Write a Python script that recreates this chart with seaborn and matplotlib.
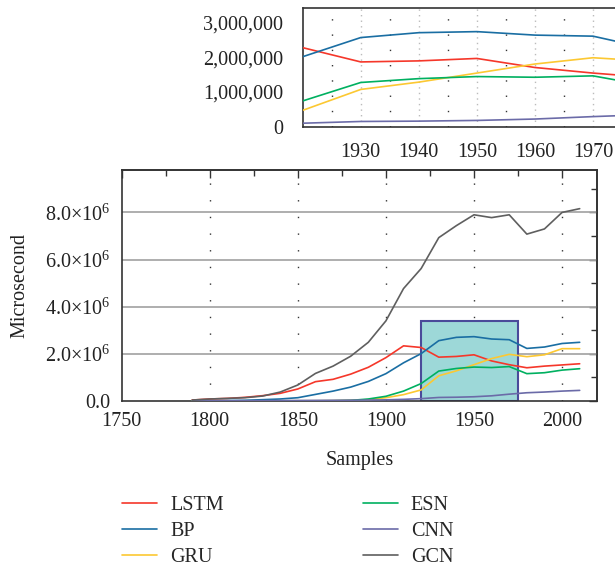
import matplotlib
matplotlib.use("Agg")
import matplotlib.pyplot as plt
import matplotlib.ticker as mticker
from matplotlib.patches import Rectangle
import numpy as np
import pandas as pd
import seaborn as sns

# ---------------- data ----------------
years = [1790, 1800, 1810, 1820, 1830, 1840, 1850, 1860, 1870, 1880, 1890, 1900,
         1910, 1920, 1930, 1940, 1950, 1960, 1970, 1980, 1990, 2000, 2010]
models = ["LSTM", "BP", "GRU", "ESN", "CNN", "GCN"]
lstm = [40e3, 85e3, 110e3, 155e3, 226e3, 325e3, 510e3, 820e3, 920e3, 1.14e6, 1.43e6, 1.84e6,
        2.34e6, 2.27e6, 1.86e6, 1.89e6, 1.96e6, 1.70e6, 1.54e6, 1.41e6, 1.48e6, 1.53e6, 1.58e6]
bp = [10e3, 14e3, 20e3, 30e3, 56e3, 85e3, 140e3, 280e3, 420e3, 590e3, 830e3, 1.16e6,
      1.62e6, 2.01e6, 2.56e6, 2.70e6, 2.73e6, 2.63e6, 2.60e6, 2.23e6, 2.29e6, 2.44e6, 2.49e6]
gru = [5e3, 5e3, 6e3, 6e3, 7e3, 8e3, 9e3, 10e3, 15e3, 28e3, 56e3, 140e3,
       270e3, 0.47e6, 1.07e6, 1.28e6, 1.54e6, 1.80e6, 1.98e6, 1.88e6, 1.96e6, 2.22e6, 2.22e6]
esn = [5e3, 5e3, 5e3, 5e3, 5e3, 5e3, 6e3, 7e3, 10e3, 25e3, 85e3, 200e3,
       420e3, 0.74e6, 1.27e6, 1.38e6, 1.44e6, 1.42e6, 1.46e6, 1.16e6, 1.20e6, 1.31e6, 1.37e6]
cnn = [5e3, 8e3, 10e3, 12e3, 15e3, 18e3, 22e3, 26e3, 30e3, 35e3, 40e3, 50e3,
       70e3, 100e3, 150e3, 160e3, 180e3, 220e3, 290e3, 350e3, 380e3, 420e3, 450e3]
gcn = [40e3, 85e3, 110e3, 140e3, 210e3, 380e3, 680e3, 1.17e6, 1.48e6, 1.90e6, 2.49e6, 3.40e6,
       4.77e6, 5.62e6, 6.93e6, 7.44e6, 7.90e6, 7.78e6, 7.90e6, 7.08e6, 7.30e6, 8.00e6, 8.16e6]
series = [lstm, bp, gru, esn, cnn, gcn]
colors = ["#f5372a", "#1a6ea3", "#fcc832", "#00b060", "#6b6ba8", "#5f5f5f"]

main_yticks = [0, 2e6, 4e6, 6e6, 8e6]
main_ylabels = ["0.0", "2.0×10$^{6}$", "4.0×10$^{6}$", "6.0×10$^{6}$", "8.0×10$^{6}$"]
main_xticks = [1750, 1800, 1850, 1900, 1950, 2000]
inset_xticks = [1930, 1940, 1950, 1960, 1970]
inset_yticks = [0, 1e6, 2e6, 3e6]
zoom_x = (1920, 1975)
zoom_y = (0, 3.4e6)

df = pd.DataFrame({
    "Samples": np.tile(years, len(models)),
    "value": np.concatenate(series),
    "model": np.repeat(models, len(years)),
})
palette = dict(zip(models, colors))

# ---------------- style ----------------
sns.set_theme(style="white")
plt.rcParams["font.family"] = ["Liberation Serif", "DejaVu Serif"]
plt.rcParams["mathtext.fontset"] = "custom"
plt.rcParams["mathtext.rm"] = "Liberation Serif"
plt.rcParams["mathtext.it"] = "Liberation Serif:italic"
FS = 14.5
SPINE = "#333333"

fig = plt.figure(figsize=(6.15, 5.70), dpi=100)

# ---------------- main axes ----------------
ax = fig.add_axes([121.7 / 615, 1 - 401 / 570, (597.3 - 121.7) / 615, (401 - 170) / 570])
sns.lineplot(data=df, x="Samples", y="value", hue="model", palette=palette,
             hue_order=models, linewidth=1.2, ax=ax, legend=True, zorder=3)
ax.set_xlim(1750, 2020)
ax.set_ylim(0, 9.8e6)
ax.set_xticks(main_xticks)
ax.set_yticks(main_yticks)
ax.set_yticklabels(main_ylabels)
ax.xaxis.set_minor_locator(mticker.MultipleLocator(25))
ax.yaxis.set_minor_locator(mticker.MultipleLocator(1e6))
ax.tick_params(axis="both", which="major", direction="out", length=5, width=1,
               color=SPINE, labelsize=FS, pad=3, labelcolor="#222222")
ax.tick_params(axis="both", which="minor", direction="out", length=3, width=1, color=SPINE)
for y in main_yticks[1:]:
    ax.axhline(y, color="#a8a8a8", lw=1.3, zorder=1)
for x in main_xticks[1:]:
    ax.axvline(x, color="#333333", lw=1.0, ls=(0, (1, 11)), zorder=1)
for s in ax.spines.values():
    s.set_color(SPINE)
    s.set_linewidth(1.2)
ax.add_patch(Rectangle((zoom_x[0], zoom_y[0]), zoom_x[1] - zoom_x[0], zoom_y[1] - zoom_y[0],
                       facecolor="#9dd8d8", edgecolor="#4a4a9a", lw=1.5, zorder=2))
ax.set_xlabel("Samples", fontsize=FS, labelpad=14, color="#222222")
ax.set_ylabel("Microsecond", fontsize=FS, labelpad=11, color="#222222")

# inward ticks on top/right
top = ax.secondary_xaxis("top")
top.set_xticks(main_xticks)
top.xaxis.set_minor_locator(mticker.MultipleLocator(25))
top.tick_params(which="major", direction="in", length=6, width=1, color=SPINE, labeltop=False)
top.tick_params(which="minor", direction="in", length=4, width=1, color=SPINE)
top.spines["top"].set_color(SPINE)
top.spines["top"].set_linewidth(1.2)
right = ax.secondary_yaxis("right")
right.set_yticks(main_yticks)
right.yaxis.set_minor_locator(mticker.MultipleLocator(1e6))
right.tick_params(which="major", direction="in", length=6, width=1, color=SPINE, labelright=False)
right.tick_params(which="minor", direction="in", length=4, width=1, color=SPINE)
right.spines["right"].set_color(SPINE)
right.spines["right"].set_linewidth(1.2)

# legend
handles, labels = ax.get_legend_handles_labels()
ax.get_legend().remove()
fig.legend(handles, labels, loc="upper left", bbox_to_anchor=(122 / 615, 1 - 496 / 570),
           ncol=2, frameon=False, fontsize=FS, handlelength=1.74, handletextpad=0.65,
           columnspacing=6.9, labelspacing=0.33, borderpad=0, borderaxespad=0)

# ---------------- inset ----------------
ins = fig.add_axes([302.7 / 615, 1 - 126.7 / 570, (622 - 302.7) / 615, (126.7 - 8.3) / 570])
sns.lineplot(data=df, x="Samples", y="value", hue="model", palette=palette,
             hue_order=models, linewidth=1.2, ax=ins, legend=False, zorder=3)
ins.set_xlim(*zoom_x)
ins.set_ylim(*zoom_y)
ins.set_xticks(inset_xticks)
ins.set_yticks(inset_yticks)
ins.xaxis.set_minor_locator(mticker.MultipleLocator(5))
ins.yaxis.set_minor_locator(mticker.MultipleLocator(5e5))
ins.yaxis.set_major_formatter(mticker.FuncFormatter(lambda v, p: f"{int(round(v)):,}"))
ins.tick_params(axis="both", which="major", direction="out", length=5, width=1,
                color=SPINE, labelsize=FS, labelcolor="#222222")
ins.tick_params(axis="x", which="major", pad=7)
ins.tick_params(axis="y", which="major", pad=9)
ins.tick_params(axis="both", which="minor", direction="out", length=3.5, width=1, color=SPINE)
ins.set_xlabel("")
ins.set_ylabel("")
for x in inset_xticks:
    ins.axvline(x, color="#bbbbbb", lw=1.0, ls=(0, (1, 3)), zorder=1)
for x in np.arange(1925, 1976, 10):
    ins.axvline(x, color="#333333", lw=1.0, ls=(0, (1, 10)), zorder=1)
for s in ins.spines.values():
    s.set_color(SPINE)
    s.set_linewidth(1.2)

fig.savefig("out.png", dpi=100)
